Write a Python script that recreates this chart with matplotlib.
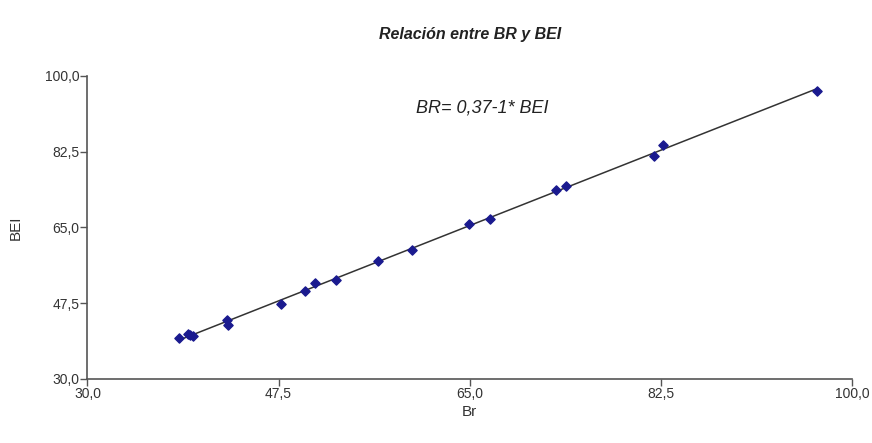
import numpy as np
import matplotlib.pyplot as plt
from matplotlib.ticker import FuncFormatter

plt.rcParams['font.family'] = ['Liberation Sans', 'DejaVu Sans']

# valores
br = [38.4, 39.2, 39.4, 39.7, 42.8, 42.9, 47.7, 49.9, 50.8, 52.8, 56.6,
      59.7, 64.9, 66.9, 72.9, 73.8, 81.9, 82.7, 96.8]
bei = [39.4, 40.5, 40.1, 40.0, 43.6, 42.4, 47.3, 50.4, 52.2, 52.8, 57.3,
       59.8, 65.8, 67.0, 73.7, 74.5, 81.6, 84.0, 96.6]
ticks = [30.0, 47.5, 65.0, 82.5, 100.0]

x = np.array(br)
y = np.array(bei)
m, b = np.polyfit(x, y, 1)
xl = np.array([x.min(), x.max()])

fig = plt.figure(figsize=(8.72, 4.43), dpi=100)
ax = fig.add_axes([0.1003, 0.1445, 0.8767, 0.684])

ax.plot(xl, m * xl + b, color='#333333', lw=1.1, zorder=2)
ax.scatter(x, y, marker='D', s=22, color='#1a1a8f', zorder=3)

ax.set_xlim(30, 100)
ax.set_ylim(30, 100)
ax.set_xticks(ticks)
ax.set_yticks(ticks)
fmt = FuncFormatter(lambda v, p: ('%.1f' % v).replace('.', ','))
ax.xaxis.set_major_formatter(fmt)
ax.yaxis.set_major_formatter(fmt)

for s in ['top', 'right']:
    ax.spines[s].set_visible(False)
for s in ['left', 'bottom']:
    ax.spines[s].set_color('#555555')
    ax.spines[s].set_linewidth(1.2)
ax.tick_params(direction='out', length=5, width=1, colors='#555555',
               labelcolor='#333333', labelsize=10, pad=1)

ax.set_xlabel('Br', fontsize=11, color='#333333', labelpad=3)
ax.set_ylabel('BEI', fontsize=11, color='#333333', labelpad=16)

fig.text(0.539, 0.921, 'Relación entre BR y BEI', ha='center', va='center',
         fontsize=11.5, fontstyle='italic', fontweight='bold', color='#222222')
ax.text(0.517, 0.894, 'BR= 0,37-1* BEI', transform=ax.transAxes, ha='center',
        va='center', fontsize=13, fontstyle='italic', color='#222222')

fig.savefig('out.png', dpi=100)
